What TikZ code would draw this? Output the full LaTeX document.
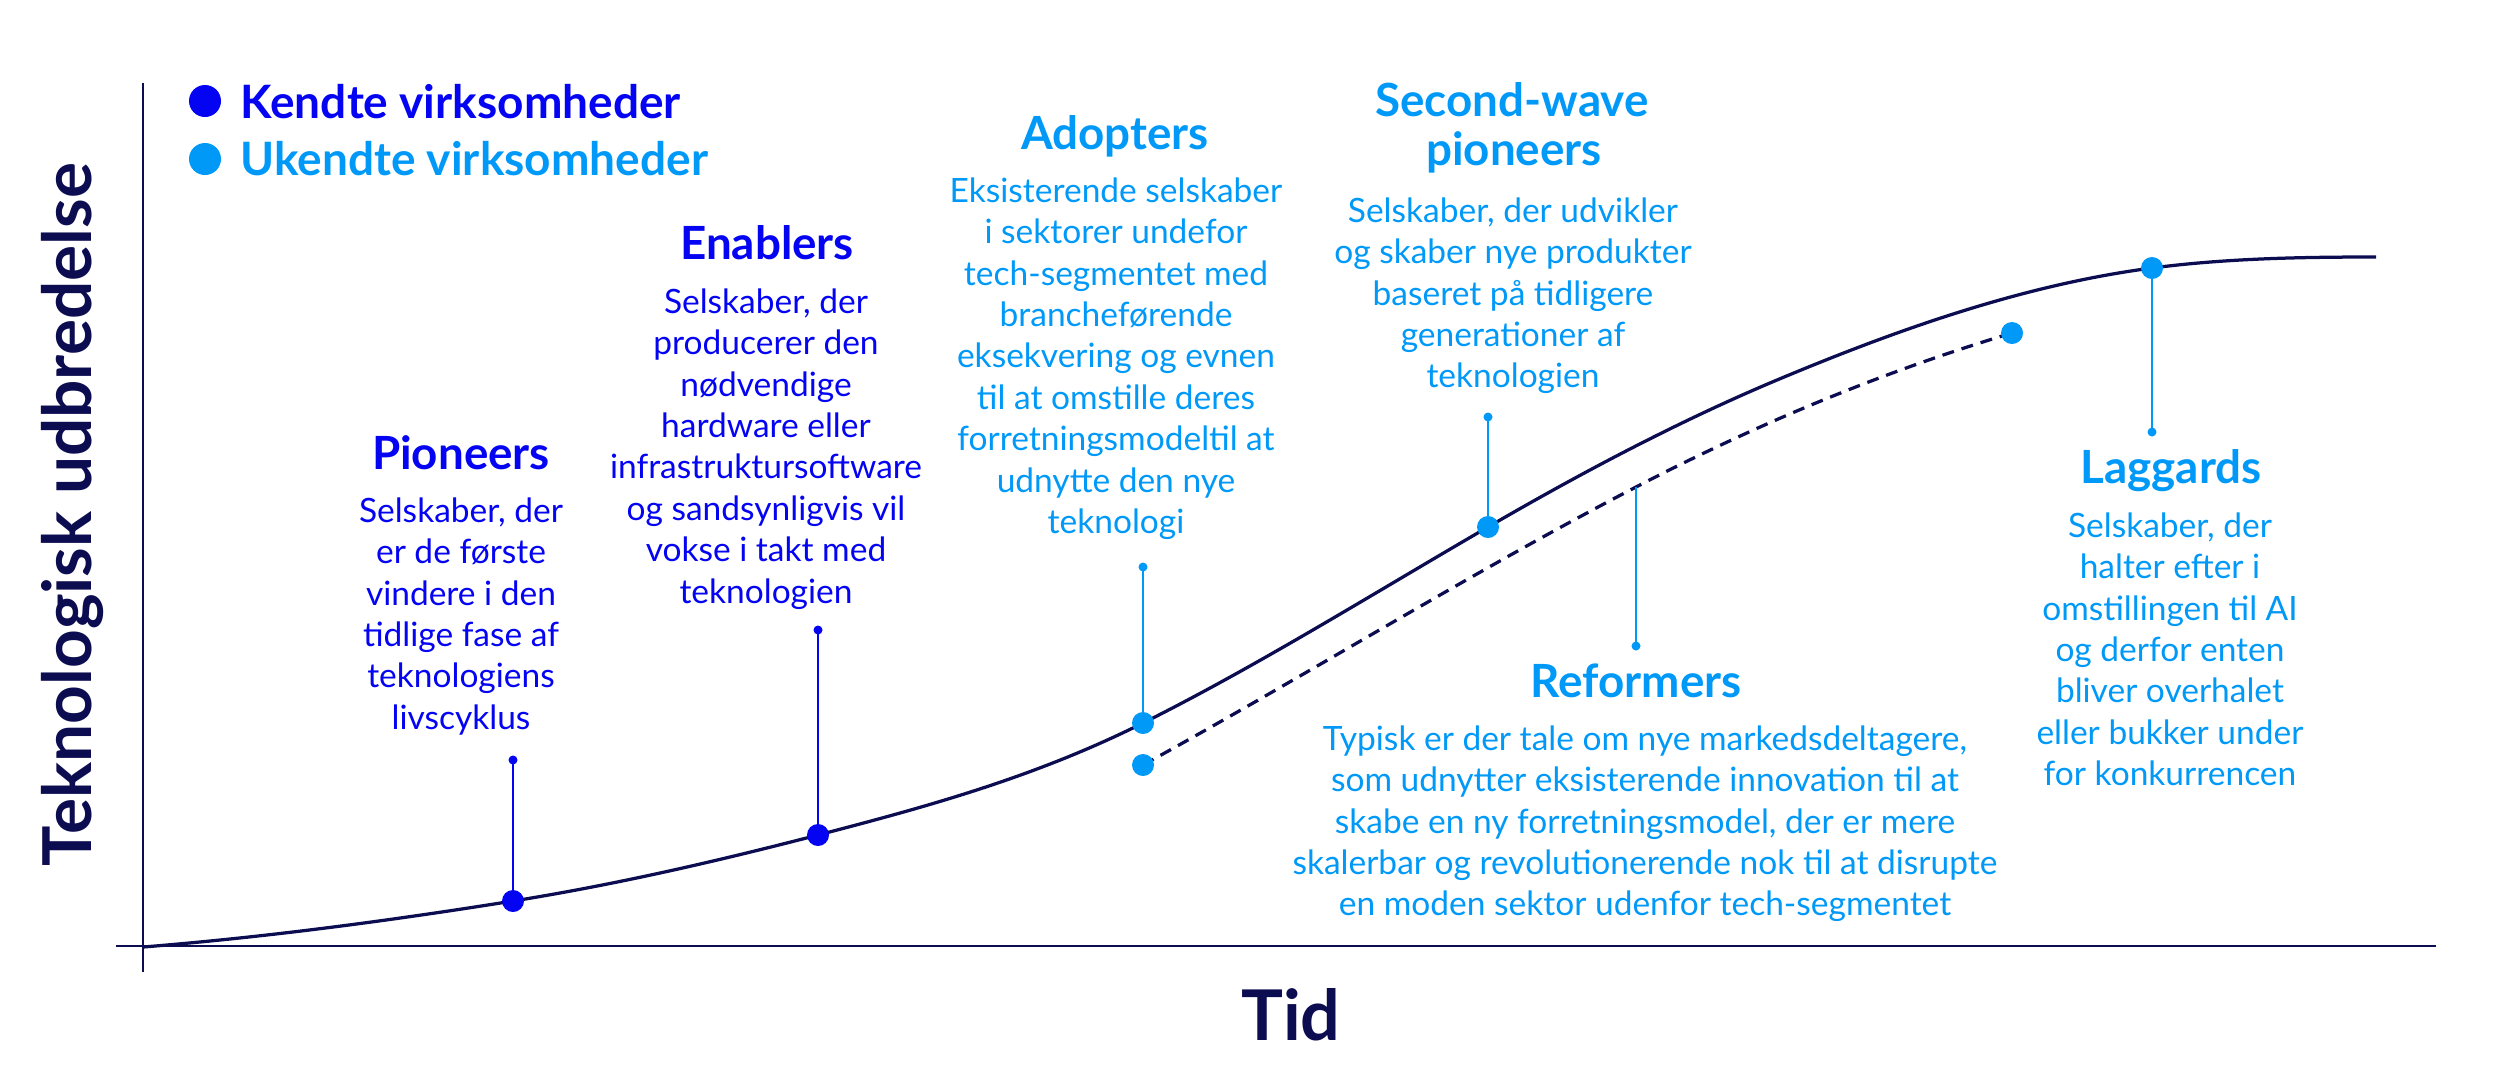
\documentclass[tikz,border=0pt]{standalone}
\usepackage{fontspec}
\setmainfont{Lato}
\definecolor{navy}{HTML}{0C0C50}
\definecolor{kblue}{HTML}{0404F2}
\definecolor{ublue}{HTML}{0099F8}
\newcommand{\fstrut}{\rule{0pt}{0.8em}}
\begin{document}
\begin{tikzpicture}[x=0.4pt,y=-0.4pt,
  bodytext/.style={anchor=north, inner sep=0pt, align=center, font=\fontsize{13.4pt}{16.56pt}\selectfont},
  titletext/.style={anchor=base, inner sep=0pt, font=\fontsize{18.3pt}{19.6pt}\selectfont\bfseries},
  legtext/.style={anchor=base west, inner sep=0pt, font=\fontsize{18.4pt}{20pt}\selectfont\bfseries},
  bigdot/.style={circle, fill, inner sep=0pt, minimum size=8.8pt},
  smalldot/.style={circle, fill, inner sep=0pt, minimum size=3.6pt},
  legdot/.style={circle, fill, inner sep=0pt, minimum size=12.8pt},
  stem/.style={line width=0.6pt},
  curve/.style={navy, line width=1.3pt},
  axis/.style={navy, line width=1.1pt},
]
\useasboundingbox (0,0) rectangle (2500,1082);

% axes
\coordinate (ytop) at (143,83);
\coordinate (ybot) at (143,972);
\coordinate (xl) at (116,946);
\coordinate (xr) at (2436,946);
\draw[axis] (ytop) -- (ybot);
\draw[axis] (xl) -- (xr);

% points
\coordinate (c0) at (143,947);
\coordinate (p1) at (513,901);   \coordinate (p1s) at (513,760);
\coordinate (p2) at (818,835);   \coordinate (p2s) at (818,630);
\coordinate (p3) at (1143,723);  \coordinate (p3s) at (1143,567);
\coordinate (d1) at (1143,765);
\coordinate (p4) at (1488,527);  \coordinate (p4s) at (1488,417);
\coordinate (c5) at (1777,380);
\coordinate (r1) at (1636,487);  \coordinate (r1s) at (1636,646);
\coordinate (d2) at (2012,333);
\coordinate (p5) at (2152,268);  \coordinate (p5s) at (2152,432);
\coordinate (c7) at (2376,257);

% curves
\draw[curve] (c0)
  .. controls (266.3,937.1) and (389.7,920.7) .. (p1)
  .. controls (614.7,884.7) and (716.3,861.4) .. (p2)
  .. controls (926.3,806.8) and (1034.7,777.2) .. (p3)
  .. controls (1258,665.5) and (1373,593.7) .. (p4)
  .. controls (1584.3,471.1) and (1680.7,420.4) .. (c5)
  .. controls (1902,327.5) and (2027,284.3) .. (p5)
  .. controls (2226.7,258.3) and (2301.3,257) .. (c7);
\draw[curve, dash pattern=on 4.8pt off 3.2pt] (d1)
  .. controls (1307.3,674.6) and (1471.7,572.4) .. (r1)
  .. controls (1761.3,421.8) and (1886.7,370.6) .. (d2);

% stems
\draw[stem, kblue] (p1) -- (p1s);
\draw[stem, kblue] (p2) -- (p2s);
\draw[stem, ublue] (p3) -- (p3s);
\draw[stem, ublue] (p4) -- (p4s);
\draw[stem, ublue] (r1) -- (r1s);
\draw[stem, ublue] (p5) -- (p5s);

% dots
\node[bigdot, kblue] (p1d) at (p1) {};
\node[smalldot, kblue] (p1sd) at (p1s) {};
\node[bigdot, kblue] (p2d) at (p2) {};
\node[smalldot, kblue] (p2sd) at (p2s) {};
\node[bigdot, ublue] (p3d) at (p3) {};
\node[smalldot, ublue] (p3sd) at (p3s) {};
\node[bigdot, ublue] (d1d) at (d1) {};
\node[bigdot, ublue] (p4d) at (p4) {};
\node[smalldot, ublue] (p4sd) at (p4s) {};
\node[smalldot, ublue] (r1sd) at (r1s) {};
\node[bigdot, ublue] (d2d) at (d2) {};
\node[bigdot, ublue] (p5d) at (p5) {};
\node[smalldot, ublue] (p5sd) at (p5s) {};

% legend
\node[legdot, kblue] (lk) at (205,101) {};
\node[legtext, kblue] (lkt) at (240,118) {Kendte virksomheder};
\node[legdot, ublue] (lu) at (205,159) {};
\node[legtext, ublue] (lut) at (240,175) {Ukendte virksomheder};

% axis labels
\node[navy, rotate=90, inner sep=0pt, font=\fontsize{27pt}{28pt}\selectfont\bfseries] (ylab) at (73,515) {Teknologisk udbredelse};
\node[navy, anchor=base, inner sep=0pt, font=\fontsize{28pt}{30pt}\selectfont\bfseries] (xlab) at (1291,1040) {Tid};

% Pioneers
\node[titletext, kblue] (t1) at (461,469) {Pioneers};
\node[bodytext, kblue] (b1) at (461,495) {\fstrut Selskaber, der\\er de første\\vindere i den\\tidlige fase af\\teknologiens\\livscyklus};

% Enablers
\node[titletext, kblue] (t2) at (767,259) {Enablers};
\node[bodytext, kblue] (b2) at (766,286) {\fstrut Selskaber, der\\producerer den\\nødvendige\\hardware eller\\infrastruktursoftware\\og sandsynligvis vil\\vokse i takt med\\teknologien};

% Adopters
\node[titletext, ublue] (t3) at (1115,149) {Adopters};
\node[bodytext, ublue] (b3) at (1116,175) {\fstrut Eksisterende selskaber\\i sektorer undefor\\tech-segmentet med\\brancheførende\\eksekvering og evnen\\til at omstille deres\\forretningsmodeltil at\\udnytte den nye\\teknologi};

% Second-wave pioneers
\node[titletext, ublue] (t4a) at (1512,116) {Second-wave};
\node[titletext, ublue] (t4b) at (1514,165) {pioneers};
\node[bodytext, ublue] (b4) at (1513,195) {\fstrut Selskaber, der udvikler\\og skaber nye produkter\\baseret på tidligere\\generationer af\\teknologien};

% Reformers
\node[titletext, ublue] (t5) at (1636,697) {Reformers};
\node[bodytext, ublue] (b5) at (1645,723) {\fstrut Typisk er der tale om nye markedsdeltagere,\\som udnytter eksisterende innovation til at\\skabe en ny forretningsmodel, der er mere\\skalerbar og revolutionerende nok til at disrupte\\en moden sektor udenfor tech-segmentet};

% Laggards
\node[titletext, ublue] (t6) at (2171,483) {Laggards};
\node[bodytext, ublue] (b6) at (2170,510) {\fstrut Selskaber, der\\halter efter i\\omstillingen til AI\\og derfor enten\\bliver overhalet\\eller bukker under\\for konkurrencen};
\end{tikzpicture}
\end{document}
